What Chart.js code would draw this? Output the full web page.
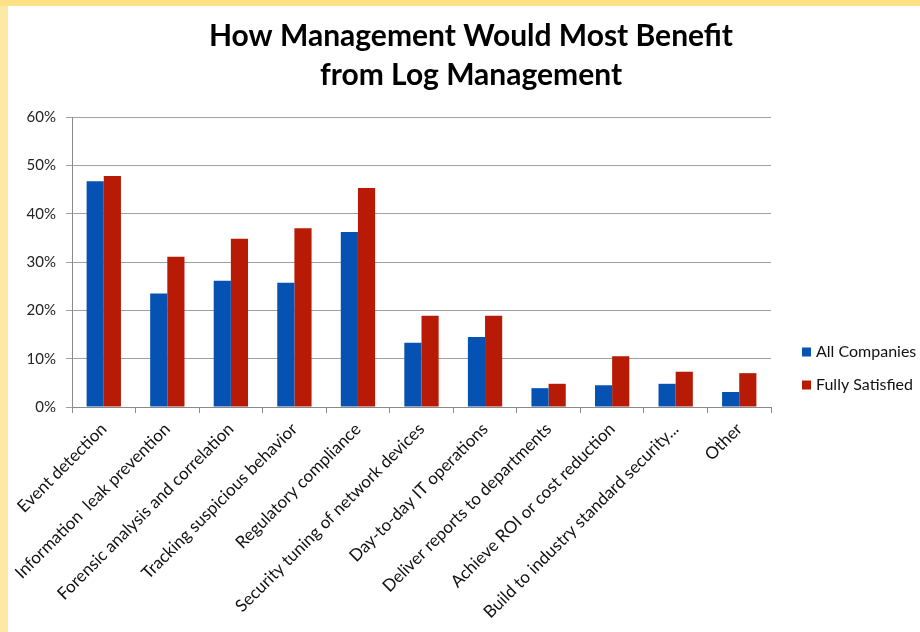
<!DOCTYPE html>
<html>
<head>
<meta charset="utf-8">
<script src="https://cdn.jsdelivr.net/npm/chart.js@4"></script>
<style>
  html, body { margin: 0; padding: 0; background: #fff; }
  #wrap { width: 920px; height: 632px; }
</style>
</head>
<body>
<div id="wrap"><canvas id="chart" width="920" height="632"></canvas></div>
<script>
const categories = [
  "Event detection",
  "Information  leak prevention",
  "Forensic analysis and correlation",
  "Tracking suspicious behavior",
  "Regulatory compliance",
  "Security tuning of network devices",
  "Day-to-day IT operations",
  "Deliver reports to departments",
  "Achieve ROI or cost reduction",
  "Build to industry standard security...",
  "Other",
];
const allCompanies = [46.7, 23.5, 26.1, 25.7, 36.2, 13.3, 14.5, 3.9, 4.5, 4.8, 3.1];
const fullySatisfied = [47.8, 31.1, 34.8, 37.0, 45.3, 18.9, 18.9, 4.8, 10.5, 7.3, 7.0];
const seriesNames = ["All Companies", "Fully Satisfied"];
const titleLines = ["How Management Would Most Benefit", "from Log Management"];

const BLUE = "#0652b3";
const RED = "#b71a05";
const FONT = "Lato, 'Open Sans', sans-serif";

// page frame: white sheet with a yellow strip on top and left
const framePlugin = {
  id: "frame",
  beforeDraw(chart) {
    const ctx = chart.ctx;
    ctx.save();
    ctx.fillStyle = "#ffffff";
    ctx.fillRect(0, 0, chart.width, chart.height);
    ctx.fillStyle = "#fde9a6";
    ctx.fillRect(0, 0, 8, chart.height);
    ctx.fillStyle = "#fee184";
    ctx.fillRect(0, 0, chart.width, 6);
    ctx.restore();
  },
};

// two-line title centred over the page
const titlePlugin = {
  id: "bigTitle",
  afterDraw(chart) {
    const ctx = chart.ctx;
    ctx.save();
    ctx.fillStyle = "#000";
    ctx.font = "bold 30px " + FONT;
    ctx.textAlign = "center";
    ctx.textBaseline = "alphabetic";
    ctx.fillText(titleLines[0], 471, 46);
    ctx.fillText(titleLines[1], 471, 85);
    ctx.restore();
  },
};

// legend on the right side
const legendPlugin = {
  id: "sideLegend",
  afterDraw(chart) {
    const ctx = chart.ctx;
    const colors = [BLUE, RED];
    const ys = [352, 385];
    ctx.save();
    ctx.font = "16px " + FONT;
    ctx.textBaseline = "middle";
    ctx.textAlign = "left";
    seriesNames.forEach((name, i) => {
      ctx.fillStyle = colors[i];
      ctx.fillRect(802, ys[i] - 4.5, 9, 9);
      ctx.fillStyle = "#111";
      ctx.fillText(name, 816, ys[i]);
    });
    ctx.restore();
  },
};

new Chart(document.getElementById("chart"), {
  type: "bar",
  data: {
    labels: categories,
    datasets: [
      { label: seriesNames[0], data: allCompanies, backgroundColor: BLUE },
      { label: seriesNames[1], data: fullySatisfied, backgroundColor: RED },
    ],
  },
  options: {
    responsive: false,
    animation: false,
    layout: { padding: { top: 117, right: 149, left: 0, bottom: 0 } },
    datasets: { bar: { categoryPercentage: 0.54, barPercentage: 1.0 } },
    plugins: {
      legend: { display: false },
      title: { display: false },
      tooltip: { enabled: false },
    },
    scales: {
      x: {
        afterFit(scale) { scale.height = 225; },
        grid: {
          display: true,
          drawOnChartArea: false,
          offset: true,
          tickLength: 6,
          color: "#8a8a8a",
        },
        border: { color: "#8a8a8a" },
        ticks: {
          autoSkip: false,
          maxRotation: 45,
          minRotation: 45,
          padding: 6,
          color: "#111",
          font: { family: FONT, size: 17 },
        },
      },
      y: {
        min: 0,
        max: 60,
        afterFit(scale) { scale.width = 72; },
        grid: { color: "#a0a0a0", tickLength: 6, lineWidth: 1 },
        border: { color: "#8a8a8a" },
        ticks: {
          stepSize: 10,
          padding: 10,
          color: "#222",
          font: { family: FONT, size: 15 },
          callback: (v) => v + "%",
        },
      },
    },
  },
  plugins: [framePlugin, titlePlugin, legendPlugin],
});
</script>
</body>
</html>
